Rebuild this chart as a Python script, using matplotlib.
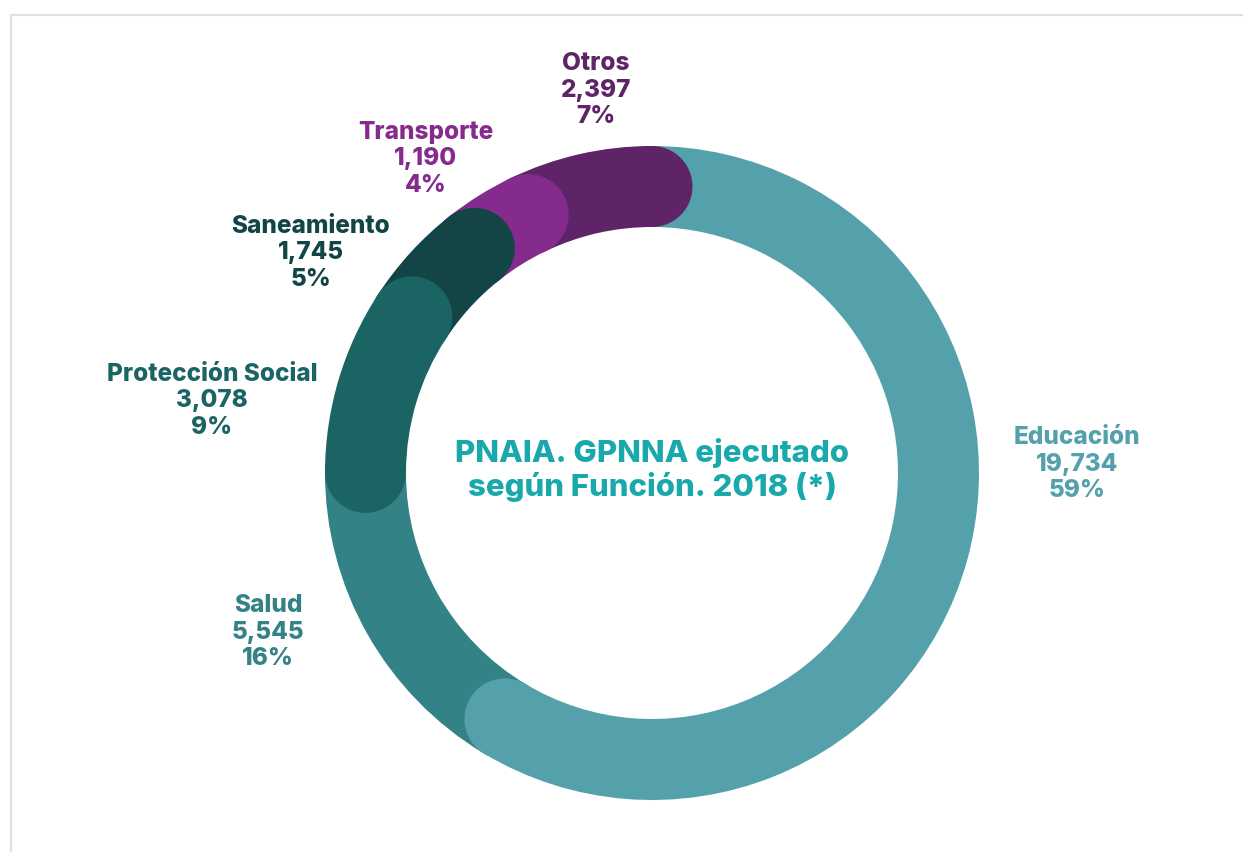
import matplotlib
matplotlib.use("Agg")
import matplotlib.pyplot as plt
from matplotlib.patches import Wedge, Circle
import numpy as np

# data
categorias = ["Educación", "Salud", "Protección Social", "Saneamiento", "Transporte", "Otros"]
valores = [19734, 5545, 3078, 1745, 1190, 2397]
porcentajes = ["59%", "16%", "9%", "5%", "4%", "7%"]
colores = ["#55a1ab", "#338386", "#1a6464", "#134546", "#862b8e", "#5e2467"]
titulo = "PNAIA. GPNNA ejecutado\nsegún Función. 2018 (*)"

# orden de dibujo (quién tapa a quién en las uniones redondeadas)
orden_z = [2, 1, 6, 5, 4, 3]
# posición de las etiquetas en píxeles (x, y de la línea del medio)
pos_etiquetas = [(1077, 464), (268, 632), (212, 401), (311, 253), (426, 159), (596, 90)]

W, H = 1243, 852
fig = plt.figure(figsize=(W / 100, H / 100), dpi=100)
ax = fig.add_axes([0, 0, 1, 1])
ax.set_xlim(0, W)
ax.set_ylim(0, H)
ax.set_aspect("equal")
ax.axis("off")

cx, cy = 652, H - 473
r_ext, ancho = 327, 81
r_med = r_ext - ancho / 2

total = sum(valores)
angulo = 90.0
for i, v in enumerate(valores):
    fin = angulo - 360.0 * v / total
    z = orden_z[i]
    ax.add_patch(Wedge((cx, cy), r_ext, fin, angulo, width=ancho,
                       facecolor=colores[i], edgecolor="none", zorder=z))
    for a in (angulo, fin):
        t = np.deg2rad(a)
        ax.add_patch(Circle((cx + r_med * np.cos(t), cy + r_med * np.sin(t)), ancho / 2,
                            facecolor=colores[i], edgecolor="none", zorder=z))
    angulo = fin

for i, cat in enumerate(categorias):
    x, y = pos_etiquetas[i]
    texto = f"{cat}\n{valores[i]:,}\n{porcentajes[i]}"
    ax.text(x, H - y, texto, ha="center", va="center", color=colores[i],
            fontsize=17.5, fontweight=800, family="Inter", linespacing=1.2)

ax.text(cx, H - 470, titulo, ha="center", va="center", color="#19a9ad",
        fontsize=22.4, fontweight=800, family="Inter", linespacing=1.15)

# marco gris claro
ax.plot([11, 11, W], [0, H - 15, H - 15], color="#e0e0e0", lw=1.5,
        solid_joinstyle="miter", zorder=0)

fig.savefig("out.png", dpi=100)
